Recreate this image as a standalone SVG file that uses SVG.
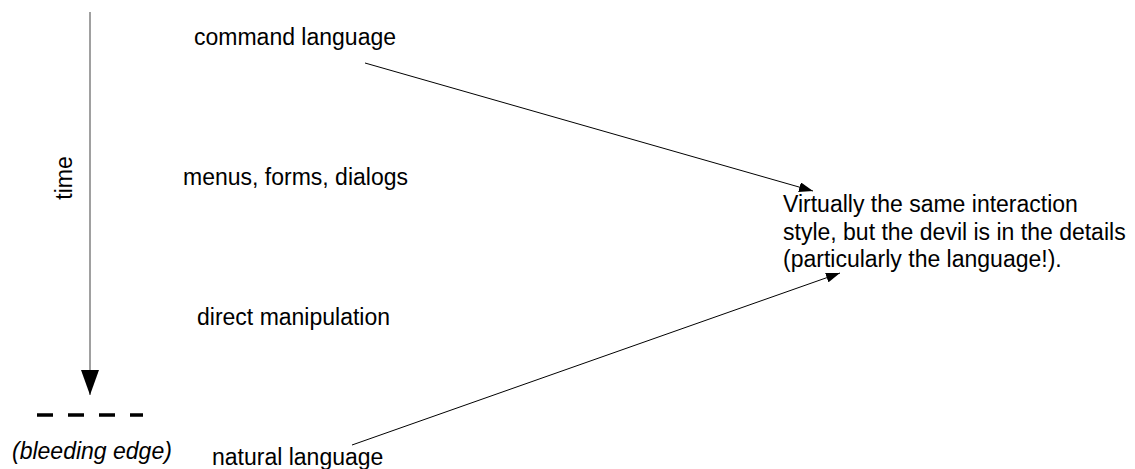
<svg xmlns="http://www.w3.org/2000/svg" width="1135" height="469" viewBox="0 0 1135 469">
  <style>
    text { font-family: "Liberation Sans", Arial, Helvetica, sans-serif; font-size: 23px; fill: #000; }
    .conn { stroke: #000; stroke-width: 1; fill: none; }
    .timeline { stroke: #808080; stroke-width: 1.5; fill: none; }
  </style>
  <defs>
    <marker id="arrow" viewBox="0 0 14 10" refX="14" refY="5" markerWidth="14" markerHeight="10" markerUnits="userSpaceOnUse" orient="auto">
      <path d="M0,0 L14,5 L0,10 z" fill="#000"/>
    </marker>
    <marker id="bigarrow" viewBox="0 0 25 18" refX="25" refY="9" markerWidth="25" markerHeight="18" markerUnits="userSpaceOnUse" orient="auto">
      <path d="M0,0 L25,9 L0,18 z" fill="#000"/>
    </marker>
  </defs>

  <g id="timeline">
    <line class="timeline" x1="90" y1="12" x2="90" y2="395" marker-end="url(#bigarrow)"/>
    <text x="72" y="178" text-anchor="middle" transform="rotate(-90 72 178)">time</text>
  </g>

  <g id="bleeding-edge">
    <line x1="37" y1="415" x2="143" y2="415" stroke="#000" stroke-width="3.5" stroke-dasharray="16 15"/>
    <text x="12" y="459" font-style="italic">(bleeding edge)</text>
  </g>

  <g id="command-language">
    <text x="194" y="45">command language</text>
  </g>

  <g id="menus">
    <text x="183" y="185">menus, forms, dialogs</text>
  </g>

  <g id="direct-manipulation">
    <text x="197" y="325">direct manipulation</text>
  </g>

  <g id="natural-language">
    <text x="212" y="465">natural language</text>
  </g>

  <g id="note">
    <text x="783" y="212">Virtually the same interaction</text>
    <text x="783" y="240">style, but the devil is in the details</text>
    <text x="783" y="267">(particularly the language!).</text>
  </g>

  <g id="connectors">
    <line class="conn" x1="365" y1="63" x2="813" y2="191" marker-end="url(#arrow)"/>
    <line class="conn" x1="352" y1="445" x2="840" y2="273" marker-end="url(#arrow)"/>
  </g>
</svg>
